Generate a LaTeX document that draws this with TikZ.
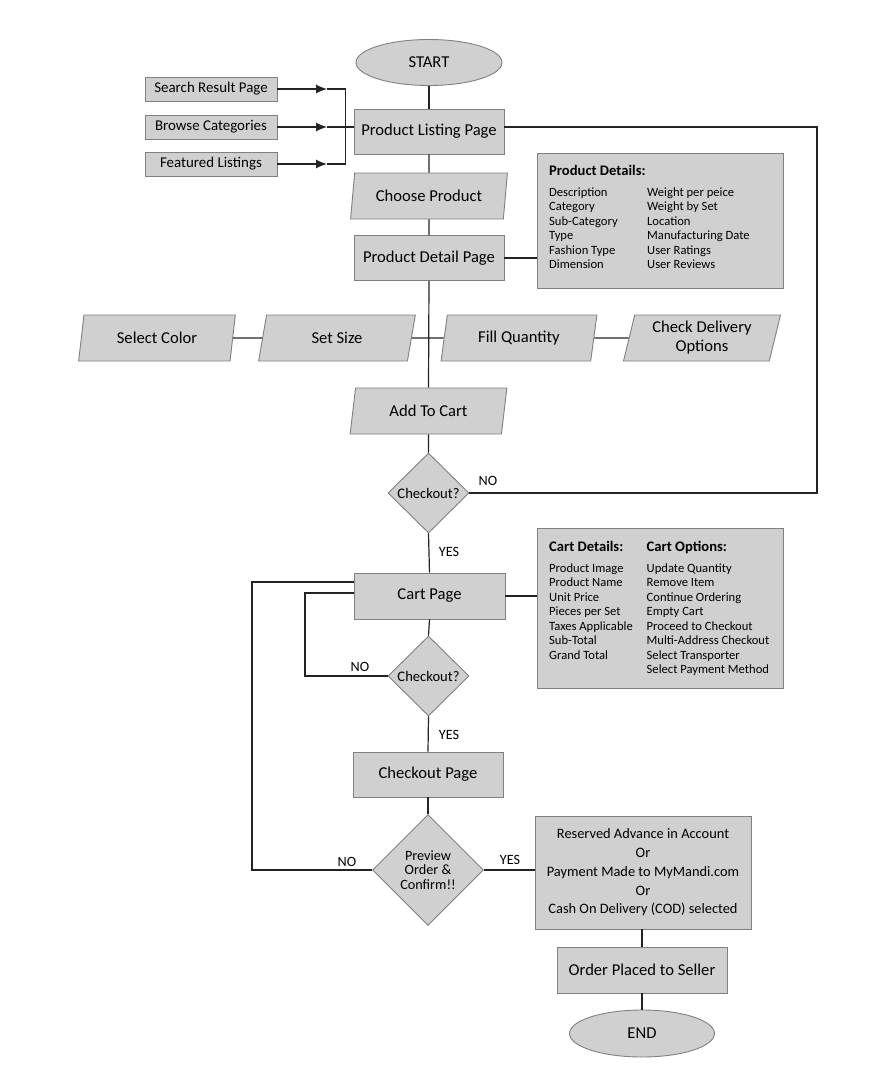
\documentclass[tikz,border=0pt]{standalone}
\usepackage{fontspec}
\setmainfont{Carlito}
\usetikzlibrary{shapes.geometric,arrows.meta,calc}
\definecolor{boxfill}{RGB}{208,208,208}
\definecolor{boxline}{RGB}{128,128,128}
\definecolor{conncol}{RGB}{35,35,35}
\begin{document}
\begin{tikzpicture}[x=1pt,y=-1pt,
  shapebase/.style={draw=boxline, fill=boxfill, line width=0.9pt, inner sep=0pt},
  pagebox/.style={shapebase, rectangle, minimum width=150pt, minimum height=45pt, font=\fontsize{16.6}{19.5}\selectfont},
  srcbox/.style={shapebase, rectangle, minimum width=132pt, minimum height=24pt, font=\fontsize{14.9}{17}\selectfont},
  termnode/.style={shapebase, ellipse, minimum width=146pt, minimum height=46pt, font=\fontsize{16.6}{19.5}\selectfont},
  iobox/.style={shapebase, trapezium, trapezium left angle=76, trapezium right angle=104, trapezium stretches=true, minimum width=157pt, minimum height=46pt, align=center, font=\fontsize{16.6}{19}\selectfont},
  decision/.style={shapebase, diamond, minimum width=81pt, minimum height=80pt, align=center, font=\fontsize{14.6}{14.5}\selectfont},
  infobox/.style={shapebase, rectangle, anchor=north west},
  infotext/.style={inner sep=0pt, anchor=base west, font=\fontsize{12.6}{14.5}\selectfont},
  infohead/.style={inner sep=0pt, anchor=base west, font=\fontsize{14.6}{17}\selectfont\bfseries},
  conn/.style={draw=conncol, line width=1.2pt},
  arr/.style={conn, -{Latex[length=11pt,width=9pt]}},
  lbl/.style={inner sep=0pt, font=\fontsize{14.2}{17}\selectfont}
]
\useasboundingbox (0,0) rectangle (877,1085);

% ---- nodes ----
\node[termnode] (start) at (429,62.5) {START};
\node[pagebox] (plp) at (429,131.5) {Product Listing Page};
\node[srcbox] (src1) at (211,89) {Search Result Page};
\node[srcbox] (src2) at (211,127) {Browse Categories};
\node[srcbox] (src3) at (211,164) {Featured Listings};
\node[iobox] (choose) at (429,196) {Choose Product};
\node[pagebox] (pdp) at (429,258) {Product Detail Page};

\node[infobox, minimum width=246pt, minimum height=135pt] (pdinfo) at (537,153) {};
\node[infohead] (pdhead) at (549,175) {Product Details:};
\node[infotext] (pdrows) at (549,196) {\begin{tabular}[t]{@{}p{98pt}@{}l@{}}
Description & Weight per peice\\
Category & Weight by Set\\
Sub-Category & Location\\
Type & Manufacturing Date\\
Fashion Type & User Ratings\\
Dimension & User Reviews
\end{tabular}};

\node[iobox] (color) at (157,338) {Select Color};
\node[iobox] (size) at (337,338) {Set Size};
\node[iobox] (qty) at (519,338) {Fill Quantity};
\node[iobox] (deliv) at (702,338) {Check Delivery\\Options};

\node[iobox] (add) at (428.5,411) {Add To Cart};
\node[decision] (chk1) at (428.5,493) {Checkout?};
\node[pagebox, minimum width=151pt, minimum height=46pt] (cart) at (429.5,596) {Cart Page};

\node[infobox, minimum width=246pt, minimum height=160pt] (cartinfo) at (537,528) {};
\node[infohead] (cdhead) at (549,551.5) {Cart Details:};
\node[infohead] (cohead) at (646.5,551.5) {Cart Options:};
\node[infotext] (cartrows) at (549,572) {\begin{tabular}[t]{@{}p{97.5pt}@{}l@{}}
Product Image & Update Quantity\\
Product Name & Remove Item\\
Unit Price & Continue Ordering\\
Pieces per Set & Empty Cart\\
Taxes Applicable & Proceed to Checkout\\
Sub-Total & Multi-Address Checkout\\
Grand Total & Select Transporter\\
 & Select Payment Method
\end{tabular}};

\node[decision] (chk2) at (428.5,676) {Checkout?};
\node[pagebox] (checkout) at (428,774.5) {Checkout Page};
\node[decision, minimum width=111pt, minimum height=111pt, font=\fontsize{14.2}{14.5}\selectfont] (prev) at (428,870) {Preview\\Order \&\\Confirm!!};
\node[pagebox, minimum width=216pt, minimum height=113pt, align=center, font=\fontsize{14.4}{18.7}\selectfont] (pay) at (643,872.5) {Reserved Advance in Account\\Or\\Payment Made to MyMandi.com\\Or\\Cash On Delivery (COD) selected};
\node[pagebox, minimum width=170pt, minimum height=46pt] (order) at (642,970) {Order Placed to Seller};
\node[termnode, minimum width=145pt, minimum height=47pt] (stopnode) at (642,1033.5) {END};

% ---- labels ----
\node[lbl] (no1) at (488,481) {NO};
\node[lbl] (yes1) at (449,552) {YES};
\node[lbl] (no2) at (360,667) {NO};
\node[lbl] (yes2) at (449,735) {YES};
\node[lbl] (no3) at (347,862) {NO};
\node[lbl] (yes3) at (510,860) {YES};

% ---- helper coordinates ----
\coordinate (a1) at (327,89);
\coordinate (a2) at (327,127);
\coordinate (a3) at (327,164);
\coordinate (j1) at (345.5,89);
\coordinate (j3) at (345.5,164);
\coordinate (r1) at (817,127);
\coordinate (l2) at (305,593);
\coordinate (l3) at (252,582);

% ---- connectors ----
\draw[arr] (src1.east) -- (a1);
\draw[arr] (src2.east) -- (a2);
\draw[arr] (src3.east) -- (a3);
\draw[conn] (a1) -- (j1) -- (j3) -- (a3);
\draw[conn] (a2) -- (a2 -| plp.west);

\draw[conn] (start.south) -- (plp.north);
\draw[conn] (plp.south) -- (choose.north);
\draw[conn] (choose.south) -- (pdp.north);
\draw[conn] (pdp.east) -- (pdp.east -| pdinfo.west);
\draw[conn] (color.east) -- (size.west);
\draw[conn] (size.east) -- (qty.west);
\draw[conn] (qty.east) -- (deliv.west);
\draw[conn] (pdp.south) -- (add.north);
\draw[conn] (add.south) -- (chk1.north);
\draw[conn] (chk1.east) -| (r1) -- (r1 -| plp.east);
\draw[conn] (chk1.south) -- (cart.north);
\draw[conn] (cart.east) -- (cart.east -| cartinfo.west);
\draw[conn] (cart.south) -- (chk2.north);
\draw[conn] (chk2.west) -| (l2) -- (l2 -| cart.west);
\draw[conn] (chk2.south) -- (checkout.north);
\draw[conn] (checkout.south) -- (prev.north);
\draw[conn] (prev.west) -| (l3) -- (l3 -| cart.west);
\draw[conn] (prev.east) -- (pay.west |- prev.east);
\draw[conn] (pay.south -| order.north) -- (order.north);
\draw[conn] (order.south) -- (stopnode.north);
\end{tikzpicture}
\end{document}
